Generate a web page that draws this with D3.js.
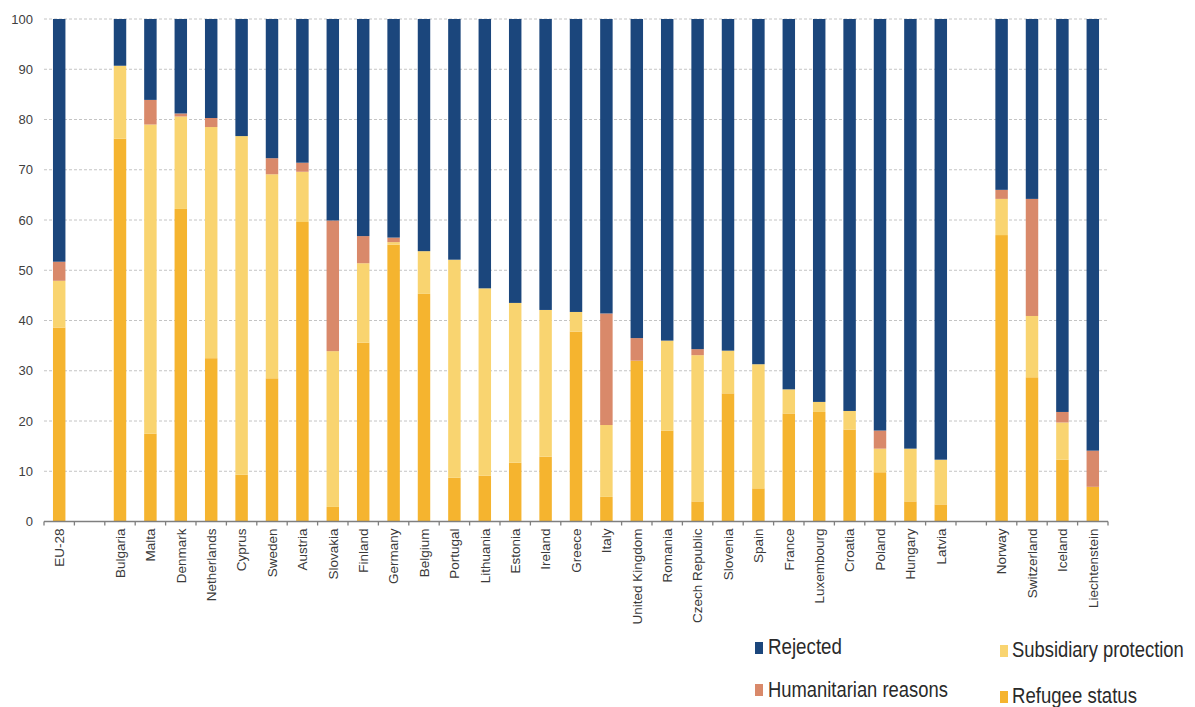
<!DOCTYPE html>
<html><head><meta charset="utf-8">
<script src="https://cdn.jsdelivr.net/npm/d3@7"></script>
<style>body{margin:0;background:#fff}svg{display:block}</style>
</head><body>
<svg id="c" width="1195" height="707"></svg>
<script>
const categories = ["EU-28","","Bulgaria","Malta","Denmark","Netherlands","Cyprus","Sweden","Austria","Slovakia","Finland","Germany","Belgium","Portugal","Lithuania","Estonia","Ireland","Greece","Italy","United Kingdom","Romania","Czech Republic","Slovenia","Spain","France","Luxembourg","Croatia","Poland","Hungary","Latvia"," ","Norway","Switzerland","Iceland","Liechtenstein"];
const refugee      = [38.6,null,76.2,17.5,62.2,32.5, 9.3,28.5,59.6, 2.9,35.6,55.1,45.3, 8.7, 9.1,11.7,12.9,37.8, 4.9,32.0,18.1, 4.0,25.5, 6.6,21.5,21.8,18.3, 9.8, 4.0, 3.4,null,57.0,28.7,12.3, 6.9];
const subsidiary   = [ 9.3,null,14.5,61.5,18.4,46.0,67.4,40.6,10.0,31.0,15.8, 0.5, 8.5,43.4,37.3,31.8,29.2, 3.9,14.3, 0.0,17.9,29.1, 8.5,24.7, 4.8, 2.0, 3.7, 4.7,10.5, 8.9,null, 7.2,12.2, 7.4, 0.0];
const humanitarian = [ 3.8,null, 0.0, 4.9, 0.6, 1.8, 0.0, 3.2, 1.8,26.0, 5.4, 0.9, 0.0, 0.0, 0.0, 0.0, 0.0, 0.0,22.2, 4.5, 0.0, 1.2, 0.0, 0.0, 0.0, 0.0, 0.0, 3.6, 0.0, 0.0,null, 1.8,23.3, 2.1, 7.2];
const rejected     = [48.3,null, 9.3,16.1,18.8,19.7,23.3,27.7,28.6,40.1,43.2,43.5,46.2,47.9,53.6,56.5,57.9,58.3,58.6,63.5,64.0,65.7,66.0,68.7,73.7,76.2,78.0,81.9,85.5,87.7,null,34.0,35.8,78.2,85.9];
const yTicks = [0,10,20,30,40,50,60,70,80,90,100];
const seriesNames = ["Refugee status","Subsidiary protection","Humanitarian reasons","Rejected"];
const seriesColors = ["#f5b42f","#f9d470","#d9896a","#1b467c"];

const svg = d3.select("#c");
const x = d3.scaleBand().domain(categories).range([44,1108]).padding(0);
const y = d3.scaleLinear().domain([0,100]).range([521.5,19]);

// gridlines
svg.append("g").selectAll("line").data(yTicks.filter(d=>d>0)).join("line")
  .attr("x1",44).attr("x2",1108).attr("y1",d=>y(d)).attr("y2",d=>y(d))
  .attr("stroke","#c4c4c4").attr("stroke-width",1).attr("stroke-dasharray","3,2");

// y tick labels
svg.append("g").selectAll("text").data(yTicks).join("text")
  .attr("x",33).attr("y",d=>y(d)+4.5).attr("text-anchor","end")
  .attr("font-family","Liberation Sans, Arial, sans-serif").attr("font-size",13).attr("fill","#404040")
  .text(d=>d);

// stacked data
const rows = categories.map((c,i)=>({cat:c, v:[refugee[i],subsidiary[i],humanitarian[i],rejected[i]]}))
  .filter(r=>r.v[0]!==null);
const bw = x.bandwidth()*0.41;
const g = svg.append("g");
rows.forEach(r=>{
  let acc=0;
  r.v.forEach((val,k)=>{
    if(val>0){
      g.append("rect")
        .attr("x",x(r.cat)+(x.bandwidth()-bw)/2).attr("width",bw)
        .attr("y",y(acc+val)).attr("height",y(acc)-y(acc+val))
        .attr("fill",seriesColors[k]);
    }
    acc+=val;
  });
});

// x axis
const ax = svg.append("g").attr("transform","translate(0,521.5)");
ax.append("line").attr("x1",44).attr("x2",1108).attr("stroke","#7f7f7f").attr("stroke-width",1.3);
const bounds = categories.map(c=>x(c)).concat([1108]);
ax.selectAll("line.t").data(bounds).join("line").attr("class","t")
  .attr("x1",d=>d).attr("x2",d=>d).attr("y1",0).attr("y2",4)
  .attr("stroke","#7f7f7f").attr("stroke-width",1.3);
ax.selectAll("text").data(categories.filter(c=>c.trim()!=="")).join("text")
  .attr("transform",d=>`translate(${x(d)+x.bandwidth()/2+4.8},7) rotate(-90)`)
  .attr("text-anchor","end")
  .attr("font-family","Liberation Sans, Arial, sans-serif").attr("font-size",13.5).attr("fill","#3a3a3a")
  .text(d=>d);

// legend
const legend = [
  {i:3, sx:755, sy:642, tx:768, ty:654, w:74},
  {i:2, sx:755, sy:684, tx:768, ty:697, w:180},
  {i:1, sx:1000, sy:645, tx:1012, ty:657, w:172},
  {i:0, sx:1000, sy:691, tx:1012, ty:703, w:125}
];
const lg = svg.append("g");
legend.forEach(l=>{
  lg.append("rect").attr("x",l.sx).attr("y",l.sy).attr("width",8).attr("height",12).attr("fill",seriesColors[l.i]);
  const t = lg.append("text").attr("x",0).attr("y",0)
    .attr("font-family","Liberation Sans, Arial, sans-serif").attr("font-size",22).attr("fill","#2a2a2a")
    .text(seriesNames[l.i]);
  const nat = t.node().getComputedTextLength();
  t.attr("transform",`translate(${l.tx},${l.ty}) scale(${l.w/nat},1)`);
});
</script>
</body></html>
